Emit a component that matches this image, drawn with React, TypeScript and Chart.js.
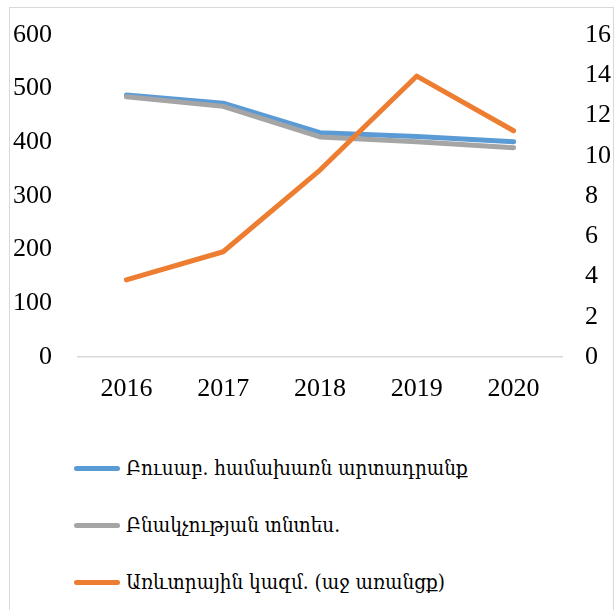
import React, { useEffect, useRef } from "react";
import { Chart, registerables } from "chart.js";

Chart.register(...registerables);

const years = ["2016", "2017", "2018", "2019", "2020"];
const seriesNames = [
  "Բուսաբ. համախառն արտադրանք",
  "Բնակչության տնտես.",
  "Առևտրային կազմ. (աջ առանցք)",
];
const cropOutput = [488, 473, 418, 411, 401];
const households = [485, 467, 410, 401, 390];
const commercialOrgs = [3.83, 5.23, 9.29, 13.96, 11.24];
const leftTicks = [0, 100, 200, 300, 400, 500, 600];
const rightTicks = [0, 2, 4, 6, 8, 10, 12, 14, 16];
const colors = ["#5b9bd5", "#a5a5a5", "#ed7d31"];

const FONT = "'Liberation Serif', 'DejaVu Serif', 'Times New Roman', serif";
const LEGEND_FONT = "'DejaVu Serif Condensed', 'DejaVu Serif', serif";

export default function App() {
  const ref = useRef<HTMLCanvasElement | null>(null);

  useEffect(() => {
    if (!ref.current) return;
    const fixPad = (s: any) => {
      s.paddingTop = 0;
      s.paddingBottom = 0;
    };
    const chart = new Chart(ref.current, {
      type: "line",
      data: {
        labels: years,
        datasets: [
          {
            label: seriesNames[0],
            data: cropOutput,
            borderColor: colors[0],
            backgroundColor: colors[0],
            yAxisID: "y",
            order: 2,
          },
          {
            label: seriesNames[1],
            data: households,
            borderColor: colors[1],
            backgroundColor: colors[1],
            yAxisID: "y",
            order: 1,
          },
          {
            label: seriesNames[2],
            data: commercialOrgs,
            borderColor: colors[2],
            backgroundColor: colors[2],
            yAxisID: "y1",
            order: 0,
          },
        ],
      },
      options: {
        animation: false,
        responsive: false,
        maintainAspectRatio: false,
        elements: {
          line: {
            borderWidth: 5,
            tension: 0,
            borderCapStyle: "round",
            borderJoinStyle: "round",
          },
          point: { radius: 0, hoverRadius: 0 },
        },
        layout: { padding: { top: 27, left: 0, right: 0, bottom: 0 } },
        plugins: {
          legend: { display: false },
          tooltip: { enabled: false },
          title: { display: false },
        },
        scales: {
          x: {
            offset: true,
            grid: { display: false, drawTicks: false },
            border: { display: true, color: "#d9d9d9", width: 1.5 },
            ticks: {
              padding: 17,
              color: "#000",
              font: { family: FONT, size: 26 },
              maxRotation: 0,
            },
            afterFit: (s: any) => {
              s.height = 51;
            },
          },
          y: {
            position: "left",
            min: leftTicks[0],
            max: leftTicks[leftTicks.length - 1],
            grid: { display: false, drawTicks: false },
            border: { display: false },
            afterBuildTicks: (s: any) => {
              s.ticks = leftTicks.map((v) => ({ value: v }));
            },
            ticks: {
              padding: 26,
              color: "#000",
              font: { family: FONT, size: 26 },
            },
            afterFit: (s: any) => {
              s.width = 68;
              fixPad(s);
            },
          },
          y1: {
            position: "right",
            min: rightTicks[0],
            max: rightTicks[rightTicks.length - 1],
            grid: { display: false, drawTicks: false },
            border: { display: false },
            afterBuildTicks: (s: any) => {
              s.ticks = rightTicks.map((v) => ({ value: v }));
            },
            ticks: {
              padding: 23,
              color: "#000",
              font: { family: FONT, size: 26 },
            },
            afterFit: (s: any) => {
              s.width = 51;
              fixPad(s);
            },
          },
        },
      },
    });
    return () => chart.destroy();
  }, []);

  const legendRows = [468, 525, 582];

  return (
    <div
      style={{
        position: "absolute",
        left: 9,
        top: 7,
        width: 603,
        height: 640,
        border: "1px solid #d9d9d9",
        background: "#fff",
        overflow: "hidden",
      }}
    >
      <canvas
        ref={ref}
        width={603}
        height={400}
        style={{ position: "absolute", left: 0, top: 0, width: 603, height: 400 }}
      />
      {seriesNames.map((name, i) => (
        <div
          key={name}
          style={{
            position: "absolute",
            left: 64,
            top: legendRows[i] - 8 - 18,
            height: 36,
            display: "flex",
            alignItems: "center",
            whiteSpace: "nowrap",
            fontFamily: LEGEND_FONT,
            fontStretch: "condensed",
            fontSize: 20.5,
            color: "#000",
          }}
        >
          <span
            style={{
              display: "inline-block",
              width: 46,
              height: 5,
              borderRadius: 3,
              background: colors[i],
              marginRight: 6,
            }}
          />
          <span>{name}</span>
        </div>
      ))}
    </div>
  );
}
